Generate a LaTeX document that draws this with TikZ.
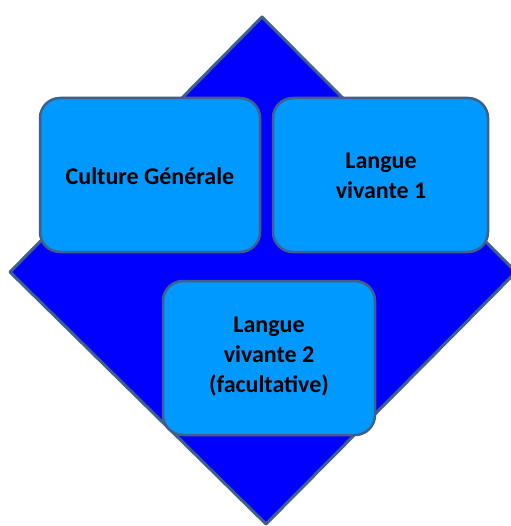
\documentclass[tikz,border=0pt]{standalone}
\usepackage{fontspec}
\setmainfont{Carlito}
\definecolor{edge}{HTML}{3F5F8C}
\definecolor{boxfill}{HTML}{0099FF}
\definecolor{diamfill}{HTML}{0000FF}
\begin{document}
\begin{tikzpicture}[x=1pt,y=-1pt,
  boxstyle/.style={draw=edge, line width=2.5pt, fill=boxfill, rounded corners=20pt},
  lbl/.style={font=\fontsize{24}{30}\selectfont\bfseries, align=center, text=black, inner sep=0pt}]
\useasboundingbox (0,0) rectangle (510,526);
\fill[white] (0,0) rectangle (510,526);
\draw[draw=edge, line width=3pt, fill=diamfill, line join=round]
  (262,17) -- (516,272) -- (266,524) -- (10,272) -- cycle;
\draw[boxstyle] (40,98) rectangle (260,252);
\draw[boxstyle] (273,98) rectangle (488,252);
\draw[boxstyle] (163,281) rectangle (375,435);
\node[lbl] (cg) at (150,176) {Culture Générale};
\node[lbl] (lv1) at (381,176) {Langue\\vivante 1};
\node[lbl] (lv2) at (269,357) {Langue\\vivante 2\\(facultative)};
\end{tikzpicture}
\end{document}
